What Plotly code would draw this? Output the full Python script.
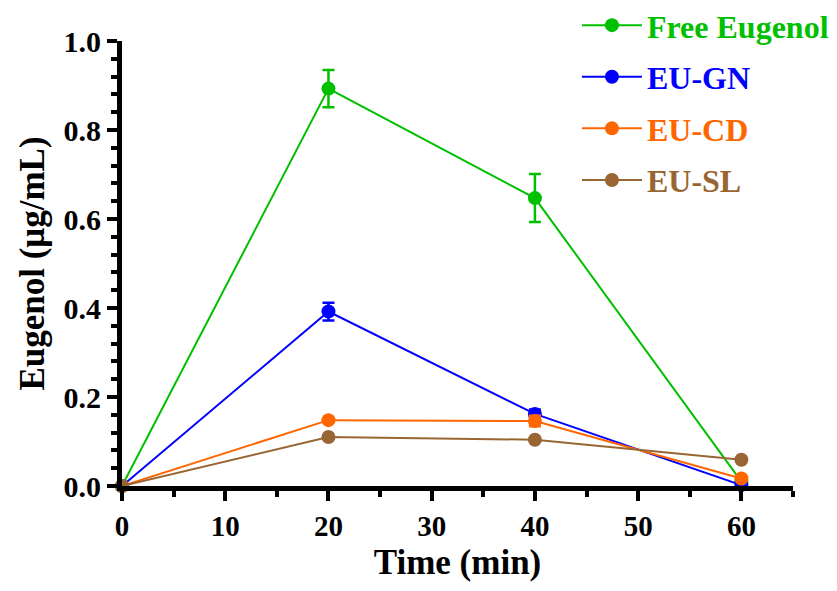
import plotly.graph_objects as go

time_min = [0, 20, 40, 60]
series_names = ["Free Eugenol", "EU-GN", "EU-CD", "EU-SL"]
free_eugenol = [0.0, 0.893, 0.647, 0.010]
free_eugenol_err = [0.0, 0.042, 0.054, 0.0]
eu_gn = [0.0, 0.392, 0.162, 0.002]
eu_gn_err = [0.0, 0.020, 0.010, 0.0]
eu_cd = [0.0, 0.148, 0.146, 0.017]
eu_cd_err = [0.0, 0.004, 0.012, 0.0]
eu_sl = [0.0, 0.110, 0.104, 0.059]
eu_sl_err = [0.0, 0.0, 0.0, 0.0]
colors = ["#00C000", "#0000FF", "#FF6600", "#996633"]

values = [free_eugenol, eu_gn, eu_cd, eu_sl]
errors = [free_eugenol_err, eu_gn_err, eu_cd_err, eu_sl_err]

FONT = "Liberation Serif"

fig = go.Figure()
for name, y, e, c in zip(series_names, values, errors, colors):
    fig.add_trace(go.Scatter(
        x=time_min, y=y, mode="lines+markers",
        name=f"<span style='color:{c}'><b>{name}</b></span>",
        legendgroup=name,
        line=dict(color=c, width=2),
        marker=dict(color=c, size=14),
        error_y=dict(type="data", array=e, visible=True, color=c, thickness=2.5, width=6),
        cliponaxis=False,
    ))

fig.update_layout(
    width=837, height=591,
    margin=dict(l=114, r=52, t=33, b=113, autoexpand=False),
    plot_bgcolor="white", paper_bgcolor="white",
    font=dict(family=FONT, color="black"),
    showlegend=True,
    legend=dict(
        xref="paper", yref="paper",
        x=0.678, y=1.097, xanchor="left", yanchor="top",
        font=dict(family=FONT, size=32),
        itemwidth=60, bgcolor="rgba(0,0,0,0)",
        tracegroupgap=7,
    ),
    xaxis=dict(
        range=[0, 65], dtick=10, tick0=0, automargin=False,
        showline=True, linecolor="black", linewidth=5,
        ticks="outside", ticklen=10, tickwidth=4, tickcolor="black",
        minor=dict(dtick=5, ticks="outside", ticklen=6, tickwidth=4, tickcolor="black"),
        showgrid=False, zeroline=False,
        tickfont=dict(family=FONT, size=29, color="black", weight="bold"),
        title=dict(text="Time (min)", font=dict(family=FONT, size=35, color="black", weight="bold"), standoff=10),
    ),
    yaxis=dict(
        range=[0, 1.0], dtick=0.2, tick0=0, tickformat=".1f", automargin=False,
        showline=True, linecolor="black", linewidth=5,
        ticks="outside", ticklen=10, tickwidth=4, tickcolor="black",
        minor=dict(dtick=0.04, ticks="outside", ticklen=6, tickwidth=4, tickcolor="black"),
        showgrid=False, zeroline=False,
        tickfont=dict(family=FONT, size=30, color="black", weight="bold"),
        title=dict(text="Eugenol (μg/mL)", font=dict(family=FONT, size=35, color="black", weight="bold"), standoff=10),
    ),
)

fig.write_html("out.html")
